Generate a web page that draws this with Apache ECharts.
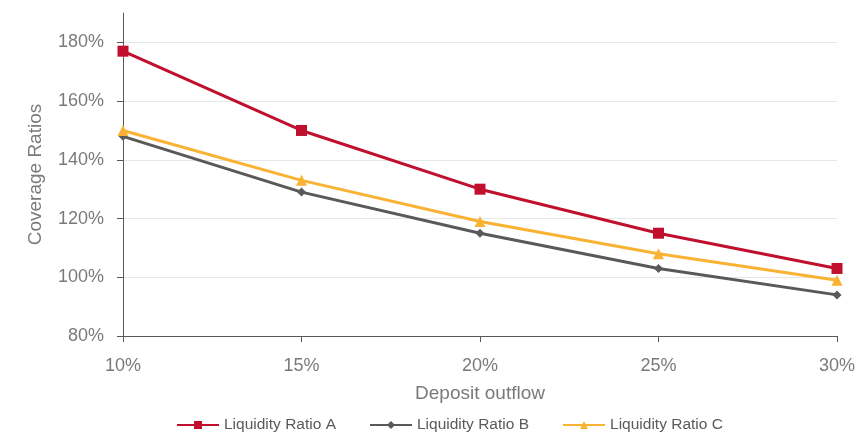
<!DOCTYPE html>
<html>
<head>
<meta charset="utf-8">
<script src="https://cdn.jsdelivr.net/npm/echarts@6/dist/echarts.min.js"></script>
<style>
  html, body { margin: 0; padding: 0; background: #fff; }
  #chart { width: 859px; height: 434px; }
</style>
</head>
<body>
<div id="chart"></div>
<script>
// deposit outflow scenarios
var outflows = ['10%', '15%', '20%', '25%', '30%'];
var ratioA = [177, 150, 130, 115, 103];
var ratioB = [148, 129, 115, 103, 94];
var ratioC = [150, 133, 119, 108, 99];

var txt = '#7a7a7a';
var chart = echarts.init(document.getElementById('chart'));

function serie(name, data, color, symbol, size) {
  return {
    name: name,
    type: 'line',
    data: data,
    symbol: symbol,
    symbolSize: size,
    color: color,
    lineStyle: { width: 3, color: color },
    itemStyle: { color: color }
  };
}

chart.setOption({
  animation: false,
  textStyle: { fontFamily: 'Liberation Sans, Arial, sans-serif' },
  grid: { left: 123, right: 22, top: 13, bottom: 98 },
  legend: {
    top: 412,
    left: 171,
    itemWidth: 42,
    itemHeight: 10,
    itemGap: 33,
    textStyle: { color: '#5a5a5a', fontSize: 15.5 },
    data: ['Liquidity Ratio A', 'Liquidity Ratio B', 'Liquidity Ratio C']
  },
  xAxis: {
    type: 'category',
    data: outflows,
    boundaryGap: false,
    name: 'Deposit outflow',
    nameLocation: 'middle',
    nameGap: 48,
    nameTextStyle: { color: txt, fontSize: 19 },
    axisLine: { lineStyle: { color: '#595959' } },
    axisTick: { length: 6, lineStyle: { color: '#595959' } },
    axisLabel: { color: txt, fontSize: 18, margin: 21 }
  },
  yAxis: {
    type: 'value',
    min: 80,
    max: 190,
    interval: 20,
    name: 'Coverage Ratios',
    nameLocation: 'middle',
    nameGap: 78,
    nameTextStyle: { color: txt, fontSize: 19 },
    axisLine: { show: true, lineStyle: { color: '#595959' } },
    axisTick: { show: true, length: 6, lineStyle: { color: '#595959' } },
    axisLabel: {
      color: txt, fontSize: 18, margin: 19, showMaxLabel: false,
      formatter: function (v) { return v > 180 ? '' : v + '%'; }
    },
    splitLine: {
      lineStyle: { color: ['#e6e6e6', '#e6e6e6', '#e6e6e6', '#e6e6e6', '#e6e6e6', '#e6e6e6', 'rgba(0,0,0,0)'] }
    }
  },
  series: [
    serie('Liquidity Ratio A', ratioA, '#C0102E', 'rect', 11),
    serie('Liquidity Ratio B', ratioB, '#595959', 'diamond', 9),
    serie('Liquidity Ratio C', ratioC, '#F9B233', 'triangle', 11)
  ]
});
</script>
</body>
</html>
